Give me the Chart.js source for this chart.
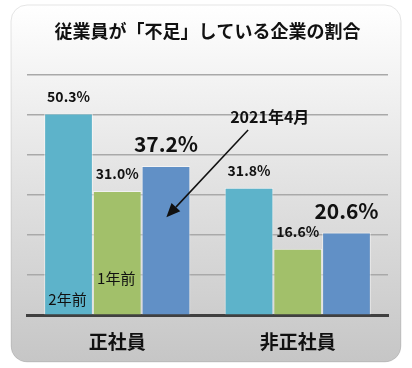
<!DOCTYPE html>
<html>
<head>
<meta charset="utf-8">
<script src="https://cdn.jsdelivr.net/npm/chart.js@4/dist/chart.umd.min.js"></script>
<style>
html,body{margin:0;padding:0;background:#fff;}
#wrap{width:412px;height:368px;position:relative;}
</style>
</head>
<body>
<div id="wrap"><canvas id="c" width="412" height="368"></canvas></div>
<script>
const titleText = "従業員が「不足」している企業の割合";
const categories = ["正社員", "非正社員"];
const seriesNames = ["2年前", "1年前", "2021年4月"];
const twoYearsAgo = [50.3, 31.8];
const oneYearAgo = [31.0, 16.6];
const april2021 = [37.2, 20.6];
const yTicks = [0, 10, 20, 30, 40, 50, 60];
// in-bar series labels: [series index, category index, value position]
const innerLabels = [[0, 0, 3.9, "2年前"], [1, 0, 9.3, "1年前"]];
// annotation text and arrow in data coordinates (category index, value)
const noteText = "2021年4月";
const notePos = [0.845, 49.5];
const arrowFrom = [0.725, 46.2];
const arrowTo = [0.272, 24.4];

const colors = ["#5db3ca", "#a2c06a", "#6190c6"];
const FONT = "'Noto Sans CJK JP', 'Noto Sans', sans-serif";

const panelPlugin = {
  id: 'panel',
  beforeDraw(chart) {
    const ctx = chart.ctx;
    const x = 11, y = 5, w = 390, h = 357, r = 16;
    ctx.save();
    const g = ctx.createLinearGradient(0, y, 0, y + h);
    g.addColorStop(0, '#ffffff');
    g.addColorStop(0.5, '#e2e2e2');
    g.addColorStop(1, '#c6c6c6');
    ctx.beginPath();
    ctx.roundRect(x, y, w, h, r);
    ctx.fillStyle = g;
    ctx.fill();
    ctx.strokeStyle = 'rgba(0,0,0,0.10)';
    ctx.lineWidth = 1;
    ctx.stroke();
    ctx.restore();
  }
};

const labelPlugin = {
  id: 'labels',
  afterDatasetsDraw(chart) {
    const ctx = chart.ctx;
    const xs = chart.scales.x, ys = chart.scales.y;
    ctx.save();
    ctx.textAlign = 'center';
    ctx.textBaseline = 'middle';
    ctx.fillStyle = '#111';
    chart.data.datasets.forEach((ds, di) => {
      const meta = chart.getDatasetMeta(di);
      meta.data.forEach((bar, i) => {
        const big = di === 2;
        ctx.font = (big ? 'bold 21px ' : 'bold 14px ') + FONT;
        const v = ds.data[i].toFixed(1) + '%';
        ctx.fillText(v, bar.x, bar.y - (big ? 22 : 17));
      });
    });
    // in-bar labels
    ctx.font = '15px ' + FONT;
    innerLabels.forEach(([si, ci, val, txt]) => {
      const bar = chart.getDatasetMeta(si).data[ci];
      ctx.fillText(txt, bar.x - 1, ys.getPixelForValue(val));
    });
    // annotation
    ctx.font = 'bold 16px ' + FONT;
    ctx.fillText(noteText, xs.getPixelForValue(notePos[0]), ys.getPixelForValue(notePos[1]));
    const x1 = xs.getPixelForValue(arrowFrom[0]), y1 = ys.getPixelForValue(arrowFrom[1]);
    const x2 = xs.getPixelForValue(arrowTo[0]), y2 = ys.getPixelForValue(arrowTo[1]);
    const ang = Math.atan2(y2 - y1, x2 - x1);
    const L = 14, W = 6;
    const bx = x2 - L * Math.cos(ang), by = y2 - L * Math.sin(ang);
    ctx.strokeStyle = '#111';
    ctx.lineWidth = 1.5;
    ctx.beginPath();
    ctx.moveTo(x1, y1);
    ctx.lineTo(bx, by);
    ctx.stroke();
    ctx.beginPath();
    ctx.moveTo(x2, y2);
    ctx.lineTo(bx + W * Math.sin(ang), by - W * Math.cos(ang));
    ctx.lineTo(bx - W * Math.sin(ang), by + W * Math.cos(ang));
    ctx.closePath();
    ctx.fillStyle = '#111';
    ctx.fill();
    ctx.restore();
  }
};

new Chart(document.getElementById('c'), {
  type: 'bar',
  data: {
    labels: categories,
    datasets: [
      { label: seriesNames[0], data: twoYearsAgo, backgroundColor: colors[0] },
      { label: seriesNames[1], data: oneYearAgo, backgroundColor: colors[1] },
      { label: seriesNames[2], data: april2021, backgroundColor: colors[2] }
    ].map(d => Object.assign(d, { borderColor: 'rgba(255,255,255,0.55)', borderWidth: 1, borderSkipped: 'bottom' }))
  },
  options: {
    responsive: false,
    animation: false,
    devicePixelRatio: 1,
    layout: { padding: { left: 27, right: 24, top: 0, bottom: 0 } },
    categoryPercentage: 0.81,
    barPercentage: 1.0,
    plugins: {
      legend: { display: false },
      tooltip: { enabled: false },
      title: {
        display: true,
        text: titleText,
        color: '#111',
        font: { family: FONT, size: 18, weight: 'bold' },
        padding: { top: 20, bottom: 33 }
      }
    },
    scales: {
      x: {
        grid: { display: false, drawTicks: false },
        border: { display: true, color: '#404040', width: 3 },
        ticks: { color: '#111', padding: 15, font: { family: FONT, size: 19, weight: 'bold' } }
      },
      y: {
        min: 0, max: 60,
        afterBuildTicks(axis) { axis.ticks = yTicks.map(v => ({ value: v })); },
        ticks: { display: false },
        grid: { color: '#a9a9a9', lineWidth: 1.5, drawTicks: false },
        border: { display: false }
      }
    }
  },
  plugins: [panelPlugin, labelPlugin]
});
</script>
</body>
</html>
